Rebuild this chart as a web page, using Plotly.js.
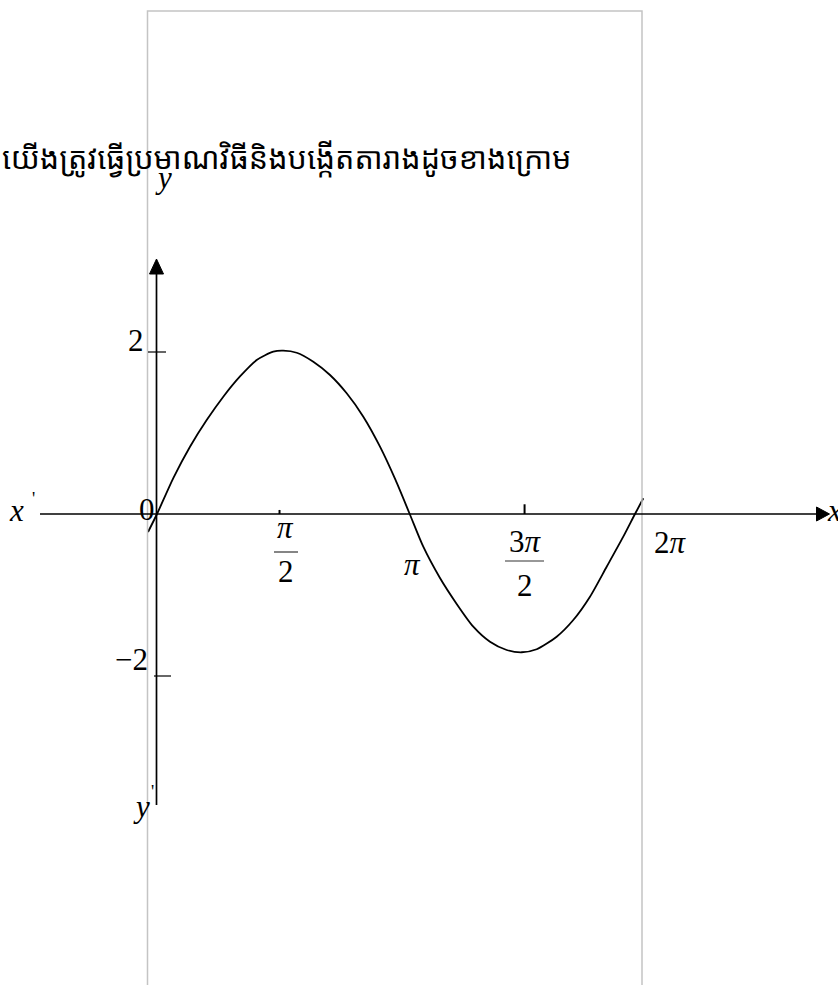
<!DOCTYPE html>
<html>
<head>
<meta charset="utf-8">
<script src="https://cdn.plot.ly/plotly-3.0.1.min.js"></script>
<style>
  html, body { margin: 0; padding: 0; background: #fff; }
  #chart { width: 838px; height: 985px; }
</style>
</head>
<body>
<div id="chart"></div>
<script>
// Sketch of y = 2 sin x over one period, drawn by hand on [0, 2π]
const curveX = [-0.115, 0, 0.209, 0.423, 0.637, 0.850, 1.064, 1.278, 1.491, 1.619, 1.791,
                2.004, 2.218, 2.432, 2.645, 2.859, 3.058, 3.240, 3.414, 3.628, 3.842,
                4.055, 4.269, 4.483, 4.676, 4.868, 5.124, 5.337, 5.551, 5.765, 5.978,
                6.128, 6.235];
const curveY = [-0.222, 0, 0.444, 0.831, 1.160, 1.448, 1.698, 1.901, 2.004, 2.016, 1.991,
                1.880, 1.716, 1.490, 1.201, 0.831, 0.420, 0, -0.404, -0.790, -1.110,
                -1.391, -1.577, -1.679, -1.707, -1.670, -1.515, -1.309, -1.021, -0.651, -0.280,
                0, 0.194];

// Axis ticks and their labels
const xTickVals = [Math.PI / 2, 3 * Math.PI / 2];
const xTickLen = [0.05, 0.12];
const yTickVals = [2, -2];
const yTickText = ['2', '\u22122'];
const titleText = 'យើងត្រូវធ្វើប្រមាណវិធីនិងបង្កើតតារាងដូចខាងក្រោម';

// Page geometry: origin and pixel scale of the drawing
const W = 838, H = 985;
const OX = 157, OY = 514, KX = 78, KY = 81;
const fx = px => (px - OX) / KX;
const fy = py => (OY - py) / KY;

const serif = 'Liberation Serif, Times New Roman, serif';
const black = '#000';
const shapes = [];
const annotations = [];

// light grey frame, open at the bottom
shapes.push({
  type: 'path', xref: 'x', yref: 'y',
  path: `M ${fx(147.5)},${fy(H + 10)} L ${fx(147.5)},${fy(11)} L ${fx(642)},${fy(11)} L ${fx(642)},${fy(H + 10)}`,
  line: { color: '#c4c4c4', width: 1.5 }
});

// x axis with arrow
shapes.push({ type: 'line', xref: 'x', yref: 'y', x0: fx(40), x1: fx(818), y0: 0, y1: 0,
  line: { color: black, width: 1.7 } });
shapes.push({ type: 'path', xref: 'x', yref: 'y',
  path: `M ${fx(816.5)},${fy(507)} L ${fx(829.5)},0 L ${fx(816.5)},${fy(521)} Z`,
  fillcolor: black, line: { color: black, width: 1 } });

// y axis with arrow
shapes.push({ type: 'line', xref: 'x', yref: 'y', x0: fx(156.5), x1: fx(156.5), y0: fy(805), y1: fy(273),
  line: { color: black, width: 1.7 } });
shapes.push({ type: 'path', xref: 'x', yref: 'y',
  path: `M ${fx(149.5)},${fy(274)} L ${fx(156.5)},${fy(259)} L ${fx(163.5)},${fy(274)} Z`,
  fillcolor: black, line: { color: black, width: 1 } });

// x ticks (small marks above the axis)
xTickVals.forEach((v, i) => {
  shapes.push({ type: 'line', xref: 'x', yref: 'y', x0: v, x1: v, y0: 0, y1: xTickLen[i],
    line: { color: black, width: 2 } });
});
// y ticks
shapes.push({ type: 'line', xref: 'x', yref: 'y', x0: fx(148), x1: fx(166), y0: yTickVals[0], y1: yTickVals[0],
  line: { color: black, width: 1.2 } });
shapes.push({ type: 'line', xref: 'x', yref: 'y', x0: fx(154), x1: fx(171), y0: yTickVals[1], y1: yTickVals[1],
  line: { color: black, width: 1.2 } });

// fraction bars under π/2 and 3π/2
shapes.push({ type: 'line', xref: 'x', yref: 'y', x0: fx(274), x1: fx(298), y0: fy(552), y1: fy(552),
  line: { color: '#333', width: 1.2 } });
shapes.push({ type: 'line', xref: 'x', yref: 'y', x0: fx(505), x1: fx(544), y0: fy(561), y1: fy(561),
  line: { color: '#333', width: 1.2 } });

function label(text, px, py, size, extra) {
  annotations.push(Object.assign({
    xref: 'x', yref: 'y', x: fx(px), y: fy(py), text: text, showarrow: false,
    xanchor: 'center', yanchor: 'middle',
    font: { family: serif, size: size || 31, color: black }
  }, extra || {}));
}

// axis names
label('<i>x</i>', 16, 510);
label("'", 33, 499, 18);
label('<i>x</i>', 834, 510);
label('<i>y</i>', 163, 177);
label('<i>y</i>', 141, 806);
label("'", 152, 792, 18);
label('0', 147, 509);

// y tick labels
label(yTickText[0], 136, 340);
label(yTickText[1], 131, 659);

// x tick labels
label('<i>π</i>', 285, 527);
label('2', 286, 571);
label('<i>π</i>', 412, 564);
label('3<i>π</i>', 525, 541);
label('2', 525, 585);
label('2<i>π</i>', 670, 542);

// sentence above the drawing
annotations.push({
  xref: 'paper', yref: 'y', x: 0, y: fy(157), xanchor: 'left', yanchor: 'middle',
  text: titleText, showarrow: false,
  font: { family: 'Noto Sans Khmer, Khmer OS, Noto Sans, sans-serif', size: 30.5, color: black }
});

const trace = {
  x: curveX, y: curveY, type: 'scatter', mode: 'lines',
  line: { color: black, width: 1.8, shape: 'spline', smoothing: 0.7 },
  hoverinfo: 'skip'
};

const layout = {
  width: W, height: H,
  margin: { l: 0, r: 0, t: 0, b: 0 },
  paper_bgcolor: '#fff', plot_bgcolor: '#fff',
  showlegend: false,
  xaxis: { visible: false, range: [fx(0), fx(W)], fixedrange: true },
  yaxis: { visible: false, range: [fy(H), fy(0)], fixedrange: true },
  shapes: shapes,
  annotations: annotations
};

Plotly.newPlot('chart', [trace], layout, { staticPlot: true, displayModeBar: false });
</script>
</body>
</html>
